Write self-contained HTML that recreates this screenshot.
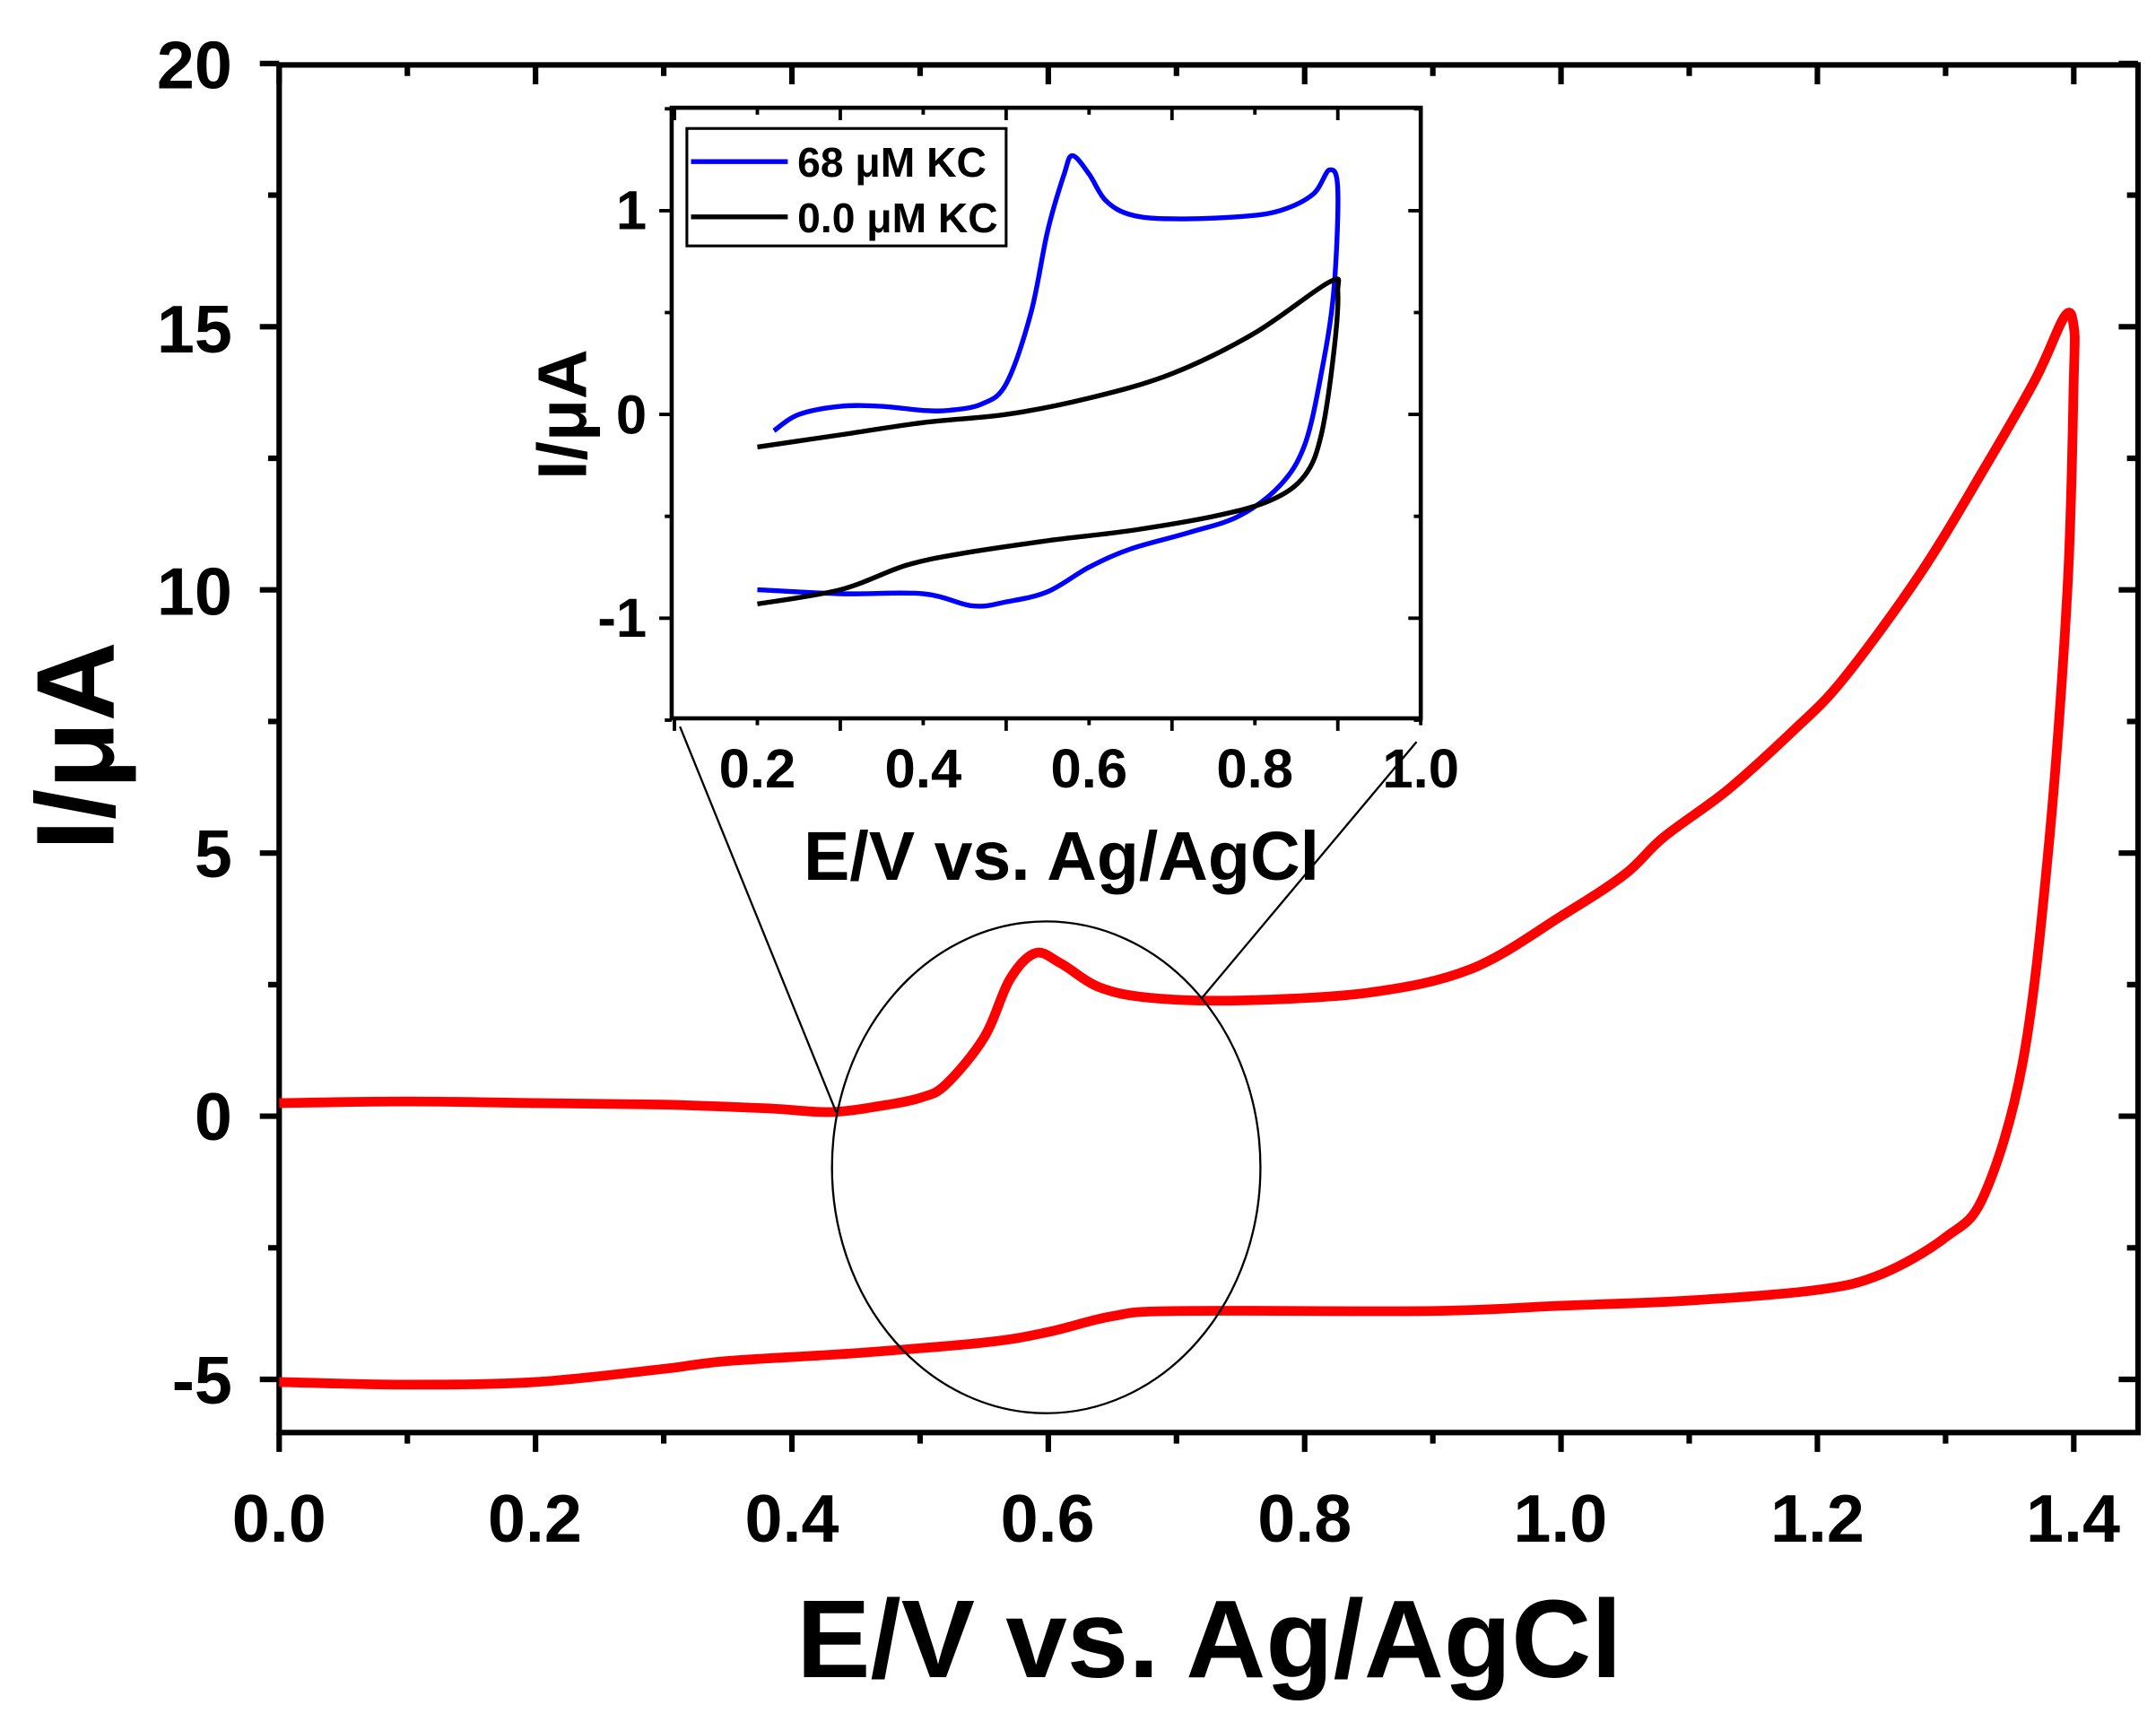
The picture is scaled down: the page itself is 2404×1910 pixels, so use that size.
<!DOCTYPE html>
<html><head><meta charset="utf-8"><style>
html,body{margin:0;padding:0;background:#fff}
svg{display:block}
text{font-family:"Liberation Sans",Arial,sans-serif;font-weight:bold}
</style></head><body>
<svg id="s" width="2404" height="1910" viewBox="0 0 1560 1240" preserveAspectRatio="none" xmlns="http://www.w3.org/2000/svg">
<rect width="1560" height="1240" fill="#fff"/>
<g id="mt" stroke="#000" stroke-width="4"></g>
<rect x="202" y="47" width="1345" height="990" fill="none" stroke="#000" stroke-width="4"/>
<g font-size="49" text-anchor="middle">
<text x="202" y="1116">0.0</text><text x="387" y="1116">0.2</text><text x="573" y="1116">0.4</text><text x="758" y="1116">0.6</text><text x="944" y="1116">0.8</text><text x="1129" y="1116">1.0</text><text x="1315" y="1116">1.2</text><text x="1500" y="1116">1.4</text>
</g>
<g font-size="49" text-anchor="end">
<text x="168" y="64">20</text><text x="168" y="255">15</text><text x="168" y="445">10</text><text x="168" y="635">5</text><text x="168" y="825">0</text><text x="168" y="1016">-5</text>
</g>
<text x="875" y="1214" font-size="80" text-anchor="middle">E/V vs. Ag/AgCl</text>
<text transform="translate(82,540) rotate(-90)" font-size="80" text-anchor="middle">I/μA</text>
<path id="red" fill="none" stroke="#f00" stroke-width="7" stroke-linejoin="round"/>
<ellipse cx="757" cy="845" rx="155" ry="178" fill="none" stroke="#000" stroke-width="1.5"/>
<line x1="605" y1="805" x2="492" y2="526" stroke="#000" stroke-width="1.5"/>
<line x1="870" y1="722" x2="1025" y2="537" stroke="#000" stroke-width="1.5"/>
<rect x="486" y="78" width="542" height="442" fill="#fff" stroke="#000" stroke-width="3"/>
<g id="it" stroke="#000" stroke-width="2.5"></g>
<path id="blue" fill="none" stroke="#00f" stroke-width="3.5" stroke-linejoin="round"/>
<path id="blk" fill="none" stroke="#000" stroke-width="3.5" stroke-linejoin="round"/>
<g font-size="40" text-anchor="middle">
<text x="548" y="570">0.2</text><text x="668" y="570">0.4</text><text x="788" y="570">0.6</text><text x="908" y="570">0.8</text><text x="1028" y="570">1.0</text>
</g>
<g font-size="40" text-anchor="end">
<text x="468" y="166">1</text><text x="468" y="314">0</text><text x="468" y="461">-1</text>
</g>
<text x="768" y="637" font-size="50" text-anchor="middle">E/V vs. Ag/AgCl</text>
<text transform="translate(424,300) rotate(-90)" font-size="50" text-anchor="middle">I/μA</text>
<rect x="497" y="93" width="231" height="85" fill="#fff" stroke="#000" stroke-width="2"/>
<line x1="500" y1="117" x2="570" y2="117" stroke="#00f" stroke-width="3.5"/>
<line x1="500" y1="157" x2="570" y2="157" stroke="#000" stroke-width="3.5"/>
<text x="577" y="128" font-size="30">68 μM KC</text>
<text x="577" y="168" font-size="30">0.0 μM KC</text>
</svg>
<script>
function P(pts,fx,fy){
  var q=pts.map(p=>[fx(p[0]),fy(p[1])]);
  var d='M'+q[0][0].toFixed(1)+' '+q[0][1].toFixed(1);
  for(var i=0;i<q.length-1;i++){
    var p0=q[i-1]||q[i],p1=q[i],p2=q[i+1],p3=q[i+2]||p2;
    var c1=[p1[0]+(p2[0]-p0[0])/6,p1[1]+(p2[1]-p0[1])/6];
    var c2=[p2[0]-(p3[0]-p1[0])/6,p2[1]-(p3[1]-p1[1])/6];
    d+='C'+c1[0].toFixed(1)+' '+c1[1].toFixed(1)+' '+c2[0].toFixed(1)+' '+c2[1].toFixed(1)+' '+p2[0].toFixed(1)+' '+p2[1].toFixed(1);
  }
  return d;
}
var red=[[0,0.25],[0.1,0.28],[0.2,0.25],[0.3,0.22],[0.38,0.15],[0.43,0.08],[0.47,0.2],[0.5,0.35],[0.52,0.6],[0.55,1.5],[0.57,2.6],[0.59,3.1],[0.61,2.9],[0.64,2.45],[0.68,2.25],[0.75,2.2],[0.85,2.35],[0.93,2.8],[1.0,3.8],[1.05,4.6],[1.08,5.3],[1.13,6.2],[1.18,7.3],[1.22,8.3],[1.28,10.3],[1.33,12.3],[1.37,14.0],[1.393,15.2],[1.4,15.0],[1.4,14],[1.395,10],[1.38,5],[1.36,1],[1.33,-1.5],[1.3,-2.3],[1.25,-3.0],[1.2,-3.3],[1.1,-3.5],[1.0,-3.6],[0.9,-3.7],[0.7,-3.7],[0.65,-3.8],[0.6,-4.1],[0.55,-4.3],[0.45,-4.5],[0.35,-4.65],[0.3,-4.8],[0.2,-5.05],[0.1,-5.1],[0,-5.05]];
document.getElementById('red').setAttribute('d',P(red,x=>202+x*927.5,y=>808-y*38.1));
var ix=x=>488+(x-0.1)*600, iy=y=>300-y*147.5;
var blue=[[0.22,-0.08],[0.25,0.0],[0.3,0.04],[0.35,0.04],[0.4,0.02],[0.43,0.02],[0.47,0.05],[0.5,0.15],[0.53,0.5],[0.55,0.9],[0.57,1.18],[0.58,1.27],[0.6,1.18],[0.62,1.05],[0.65,0.98],[0.7,0.96],[0.78,0.97],[0.83,1.0],[0.87,1.08],[0.89,1.2],[0.9,1.1],[0.895,0.6],[0.88,0.2],[0.86,-0.15],[0.83,-0.35],[0.78,-0.5],[0.72,-0.58],[0.65,-0.66],[0.6,-0.75],[0.55,-0.87],[0.5,-0.92],[0.46,-0.94],[0.4,-0.88],[0.3,-0.88],[0.2,-0.86]];
var blk=[[0.2,-0.16],[0.3,-0.1],[0.4,-0.04],[0.5,0.0],[0.6,0.08],[0.7,0.2],[0.8,0.4],[0.89,0.65],[0.9,0.6],[0.895,0.3],[0.88,-0.1],[0.86,-0.3],[0.82,-0.42],[0.75,-0.5],[0.65,-0.57],[0.55,-0.62],[0.45,-0.68],[0.38,-0.74],[0.3,-0.86],[0.2,-0.93]];
document.getElementById('blue').setAttribute('d',P(blue,ix,iy));
document.getElementById('blk').setAttribute('d',P(blk,ix,iy));
var t='';
for(var i=0;i<=14;i++){var x=202+i*92.75,L=i%2?8:14;t+='M'+x+' 1037v'+L+'M'+x+' 47v'+L;}
for(var k=-5;k<=20;k+=2.5){var y=808-k*38.1,L=(k%5==0)?14:8;t+='M202 '+y+'h-'+L+'M1547 '+y+'h-'+L;}
document.getElementById('mt').innerHTML='<path d="'+t+'"/>';
var u='';
for(var i=0;i<=9;i++){var x=488+i*60,L=i%2?5:9;u+='M'+x+' 520v'+L+'M'+x+' 78v'+L;}
for(var k=-1.5;k<=1.5;k+=0.5){var y=300-k*147.5,L=(Math.abs(k%1)<0.01)?9:5;u+='M486 '+y+'h-'+L+'M1028 '+y+'h-'+L;}
document.getElementById('it').innerHTML='<path d="'+u+'"/>';
</script>
</body></html>
